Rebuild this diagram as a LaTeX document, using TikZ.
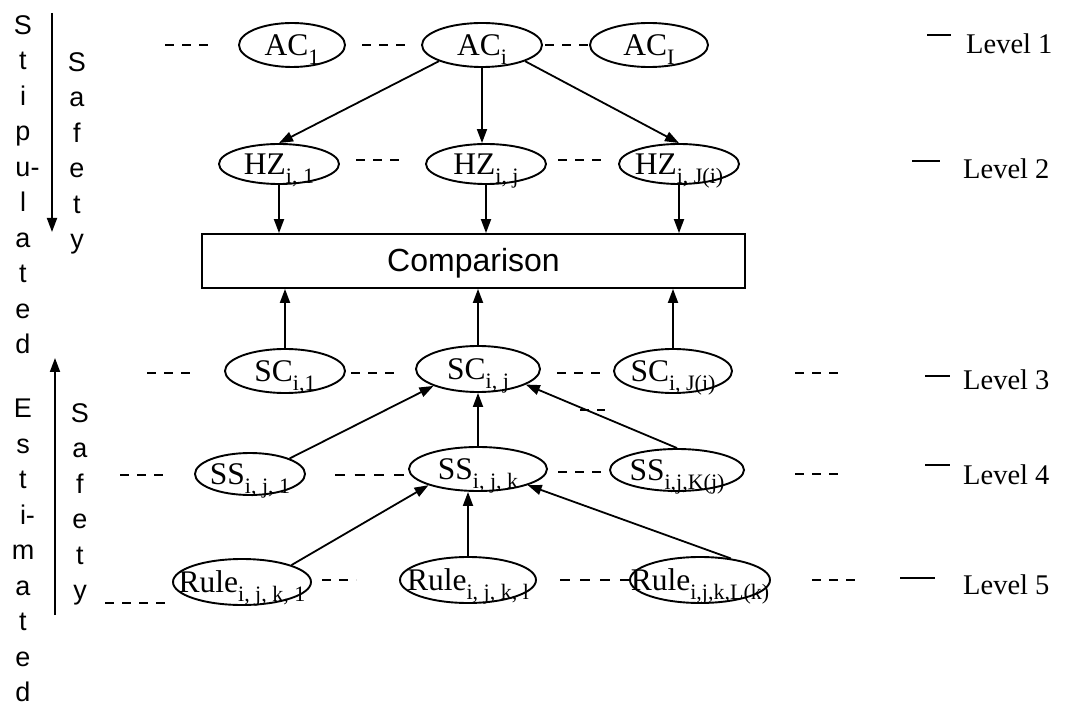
\documentclass[tikz,border=0pt]{standalone}
\usepackage{fontspec}
\setmainfont{Liberation Serif}
\newfontfamily\sansf{Liberation Sans}
\usetikzlibrary{shapes.geometric,arrows.meta}
\newcommand\subs[1]{\raisebox{-0.3em}{\fontsize{22}{22}\selectfont #1}}
\begin{document}
\begin{tikzpicture}[x=1pt,y=-1pt,
  ell/.style={draw, ellipse, line width=1.9pt, inner sep=0pt, minimum width=#1},
  ell/.default=120pt,
  etxt/.style={anchor=base, inner sep=0pt, font=\fontsize{31.5}{31.5}\selectfont},
  dsh/.style={line width=1.4pt, dash pattern=on 9pt off 8pt},
  conn/.style={line width=1.8pt, -{Triangle[length=14pt,width=10pt]}},
  lvl/.style={anchor=base west, inner sep=0pt, font=\fontsize{28.5}{28.5}\selectfont},
  vtxt/.style={anchor=north, inner sep=0pt, align=center, font=\sansf\fontsize{27}{35.5}\selectfont}
]
\useasboundingbox (0,0) rectangle (1068,708);

% Level 1
\node[ell=106pt, minimum height=44pt] (ac1) at (292,45) {};
\node[ell=120pt, minimum height=44pt] (aci) at (482,45) {};
\node[ell=118pt, minimum height=44pt] (acI) at (649,45) {};
\node[etxt] (ac1t) at ([yshift=-10.5pt]ac1.center) {AC\subs{1}};
\node[etxt] (acit) at ([yshift=-10.5pt]aci.center) {AC\subs{i}};
\node[etxt] (acIt) at ([yshift=-10.5pt]acI.center) {AC\subs{I}};

% Level 2
\node[ell=120pt, minimum height=40pt] (hz1) at (279,164) {};
\node[ell=120pt, minimum height=40pt] (hzj) at (486,164) {};
\node[ell=120pt, minimum height=40pt] (hzJ) at (679,164) {};
\node[etxt] (hz1t) at ([yshift=-10.5pt]hz1.center) {HZ\subs{i, 1}};
\node[etxt] (hzjt) at ([yshift=-10.5pt]hzj.center) {HZ\subs{i, j}};
\node[etxt] (hzJt) at ([yshift=-10.5pt]hzJ.center) {HZ\subs{i, J(i)}};

% Comparison
\node[draw, line width=1.8pt, minimum width=543pt, minimum height=54pt, inner sep=0pt] (comp) at (473.5,261) {};
\node[inner sep=0pt, font=\sansf\fontsize{32}{32}\selectfont] (compt) at ([yshift=-2pt]comp.center) {Comparison};

% Level 3
\node[ell=120pt, minimum height=44pt] (sc1) at (285,371) {};
\node[ell=124pt, minimum height=46pt] (scj) at (478,369) {};
\node[ell=118pt, minimum height=44pt] (scJ) at (673,371) {};
\node[etxt] (sc1t) at ([yshift=-10.5pt]sc1.center) {SC\subs{i,1}};
\node[etxt] (scjt) at ([yshift=-10.5pt]scj.center) {SC\subs{i, j}};
\node[etxt] (scJt) at ([yshift=-10.5pt]scJ.center) {SC\subs{i, J(i)}};

% Level 4
\node[ell=110pt, minimum height=42pt] (ss1) at (250,474) {};
\node[ell=138pt, minimum height=44pt] (ssk) at (478,469) {};
\node[ell=134pt, minimum height=42pt] (ssK) at (677,470) {};
\node[etxt] (ss1t) at ([yshift=-10.5pt]ss1.center) {SS\subs{i, j, 1}};
\node[etxt] (sskt) at ([yshift=-10.5pt]ssk.center) {SS\subs{i, j, k}};
\node[etxt] (ssKt) at ([yshift=-10.5pt]ssK.center) {SS\subs{i,j,K(j)}};

% Level 5
\node[ell=138pt, minimum height=46pt] (ru1) at (242,582) {};
\node[ell=136pt, minimum height=46pt] (rul) at (468,580) {};
\node[ell=140pt, minimum height=46pt] (ruL) at (700,580) {};
\node[etxt] (ru1t) at ([yshift=-10.5pt]ru1.center) {Rule\subs{i, j, k, 1}};
\node[etxt] (rult) at ([yshift=-10.5pt]rul.center) {Rule\subs{i, j, k, l}};
\node[etxt] (ruLt) at ([yshift=-10.5pt]ruL.center) {Rule\subs{i,j,k,L(k)}};

% connectors
\draw[conn] (aci.south west) -- (hz1.north);
\draw[conn] (aci.south) -- (aci.south |- hzj.north);
\draw[conn] (aci.south east) -- (hzJ.north);
\draw[conn] (hz1.south) -- (hz1.south |- comp.north);
\draw[conn] (hzj.south) -- (hzj.south |- comp.north);
\draw[conn] (hzJ.south) -- (hzJ.south |- comp.north);
\draw[conn] (sc1.north) -- (sc1.north |- comp.south);
\draw[conn] (scj.north) -- (scj.north |- comp.south);
\draw[conn] (scJ.north) -- (scJ.north |- comp.south);
\draw[conn] (ss1.north east) -- (scj.south west);
\draw[conn] (ssk.north) -- (ssk.north |- scj.south);
\draw[conn] (ssK.north) -- (scj.-18);
\draw[conn] (ru1.north east) -- (ssk.south west);
\draw[conn] (rul.north) -- (rul.north |- ssk.south);
\draw[conn] (ruL.35) -- (ssk.-18);

% dashes
\draw[dsh] (165,45) -- (212,45);
\draw[dsh] (362,45) -- (410,45);
\draw[dsh] (545,45) -- (592,45);
\draw[dsh] (356,160) -- (403,160);
\draw[dsh] (558,160) -- (605,160);
\draw[dsh] (147,373) -- (194,373);
\draw[dsh] (351,373) -- (398,373);
\draw[dsh] (557,373) -- (604,373);
\draw[dsh] (795,373) -- (842,373);
\draw[dsh] (580,410) -- (605,410);
\draw[dsh] (120,475) -- (167,475);
\draw[line width=1.4pt, dash pattern=on 10pt off 9.7pt] (335,475) -- (404,475);
\draw[dsh] (558,472) -- (605,472);
\draw[dsh] (795,474) -- (842,474);
\draw[dsh] (105,603) -- (169,603);
\draw[dsh] (322,580) -- (356,580);
\draw[line width=1.4pt, dash pattern=on 10pt off 10pt] (560,580) -- (630,580);
\draw[dsh] (812,580) -- (859,580);

% level labels
\node[lvl] (lv1) at (966,54) {Level 1};
\node[lvl] (lv2) at (963,179) {Level 2};
\node[lvl] (lv3) at (963,389) {Level 3};
\node[lvl] (lv4) at (963,484) {Level 4};
\node[lvl] (lv5) at (963,594) {Level 5};
\draw[line width=1.6pt] (927,35) -- (951,35);
\draw[line width=1.6pt] (912,161) -- (940,161);
\draw[line width=1.6pt] (925,376) -- (950,376);
\draw[line width=1.6pt] (925,465) -- (950,465);
\draw[line width=1.6pt] (900,578) -- (935,578);

% left side
\node[vtxt] (stip) at (23,15) {S\\t\\i\\p\\u\rlap{-}\\l\\a\\t\\e\\d};
\node[vtxt] (saf1) at (77,52) {S\\a\\f\\e\\t\\y};
\node[vtxt] (esti) at (23,399) {E\\s\\t\\i\rlap{-}\\m\\a\\t\\e\\d};
\node[vtxt] (saf2) at (80,403) {S\\a\\f\\e\\t\\y};
\coordinate (d1) at (52,13);
\coordinate (d2) at (52,232);
\coordinate (u1) at (55,615);
\coordinate (u2) at (55,358);
\draw[conn] (d1) -- (d2);
\draw[conn] (u1) -- (u2);
\end{tikzpicture}
\end{document}
